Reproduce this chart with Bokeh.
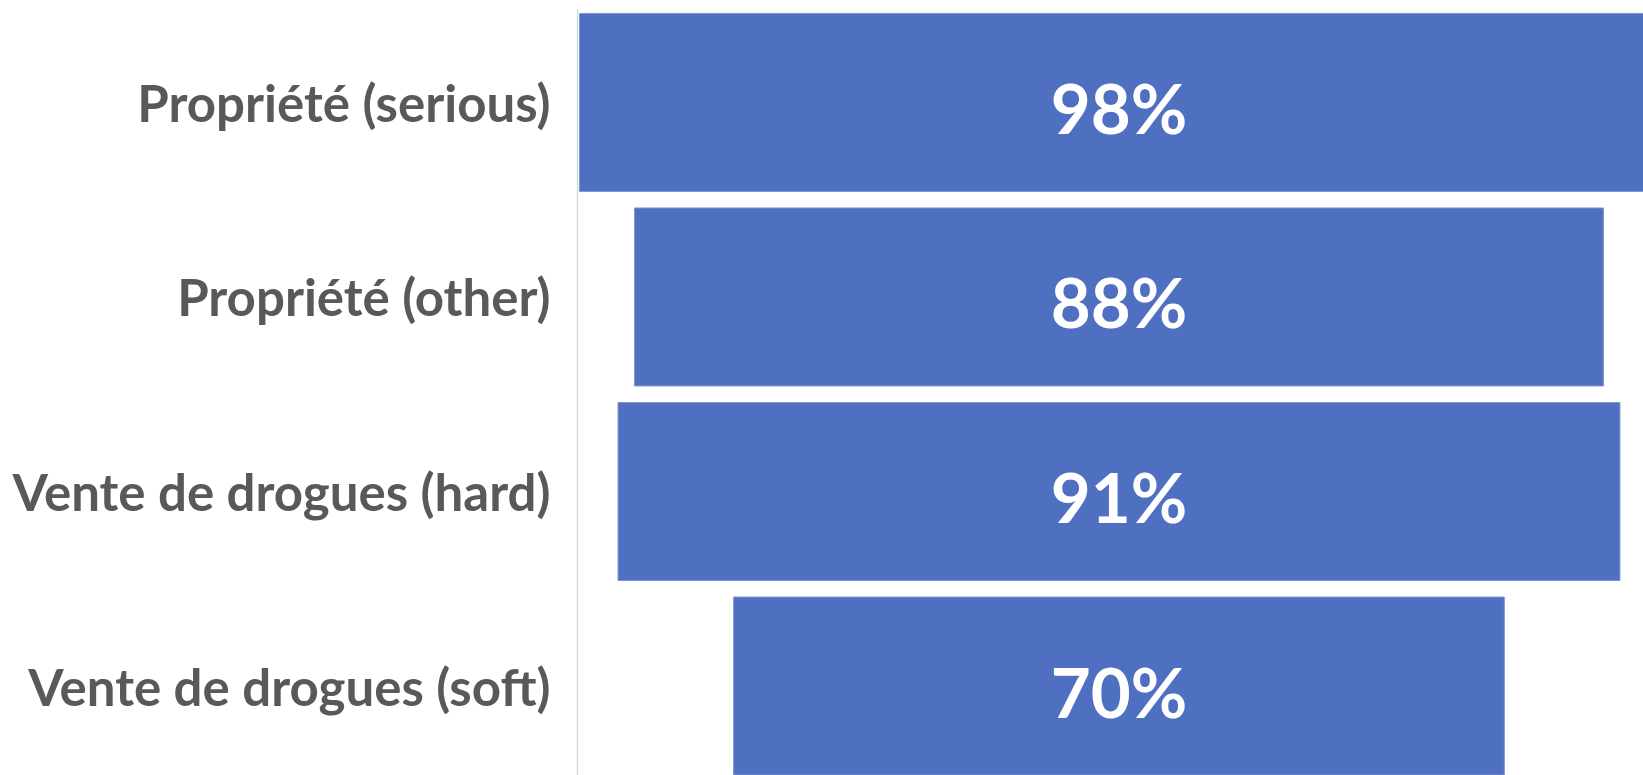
from bokeh.plotting import figure
from bokeh.models import Range1d, FixedTicker, LinearAxis, ColumnDataSource
from bokeh.core.properties import value
from bokeh.embed import file_html
from bokeh.resources import INLINE

categories = ["Propriété (serious)", "Propriété (other)",
              "Vente de drogues (hard)", "Vente de drogues (soft)"]
values = [98, 88, 91, 70]
labels = ["98%", "88%", "91%", "70%"]

n = len(categories)
ypos = [n - 1 - i for i in range(n)]
src = ColumnDataSource(dict(
    y=ypos,
    left=[-v / 2 for v in values],
    right=[v / 2 for v in values],
    x=[0] * n,
    label=labels,
))

p = figure(width=1643, height=775, output_backend="svg", toolbar_location=None,
           x_range=Range1d(-49.18, 47.64), y_range=Range1d(-0.46, 3.524),
           min_border_left=577, min_border_right=0, min_border_top=0,
           min_border_bottom=0, x_axis_location=None, y_axis_location=None)
p.outline_line_color = None
p.grid.visible = False
p.background_fill_color = "white"

p.hbar(y="y", left="left", right="right", height=0.915, source=src,
       fill_color="#4F70C1", line_color="#7F96D3", line_width=1)

p.text(x="x", y="y", text="label", source=src, text_align="center",
       text_baseline="middle", text_color="white", text_font=value("Lato"),
       text_font_style="bold", text_font_size="69px", y_offset=5)

ax = LinearAxis(ticker=FixedTicker(ticks=ypos), bounds=(-0.46, 3.48),
                major_label_overrides={y: c for y, c in zip(ypos, categories)})
ax.axis_line_color = "#d9d9d9"
ax.axis_line_width = 1.5
ax.major_tick_line_color = None
ax.minor_tick_line_color = None
ax.major_label_standoff = 21
ax.major_label_text_font = "Lato"
ax.major_label_text_font_style = "bold"
ax.major_label_text_font_size = "51px"
ax.major_label_text_color = "#595959"
p.add_layout(ax, "left")

open("out.html", "w").write(file_html(p, INLINE))
